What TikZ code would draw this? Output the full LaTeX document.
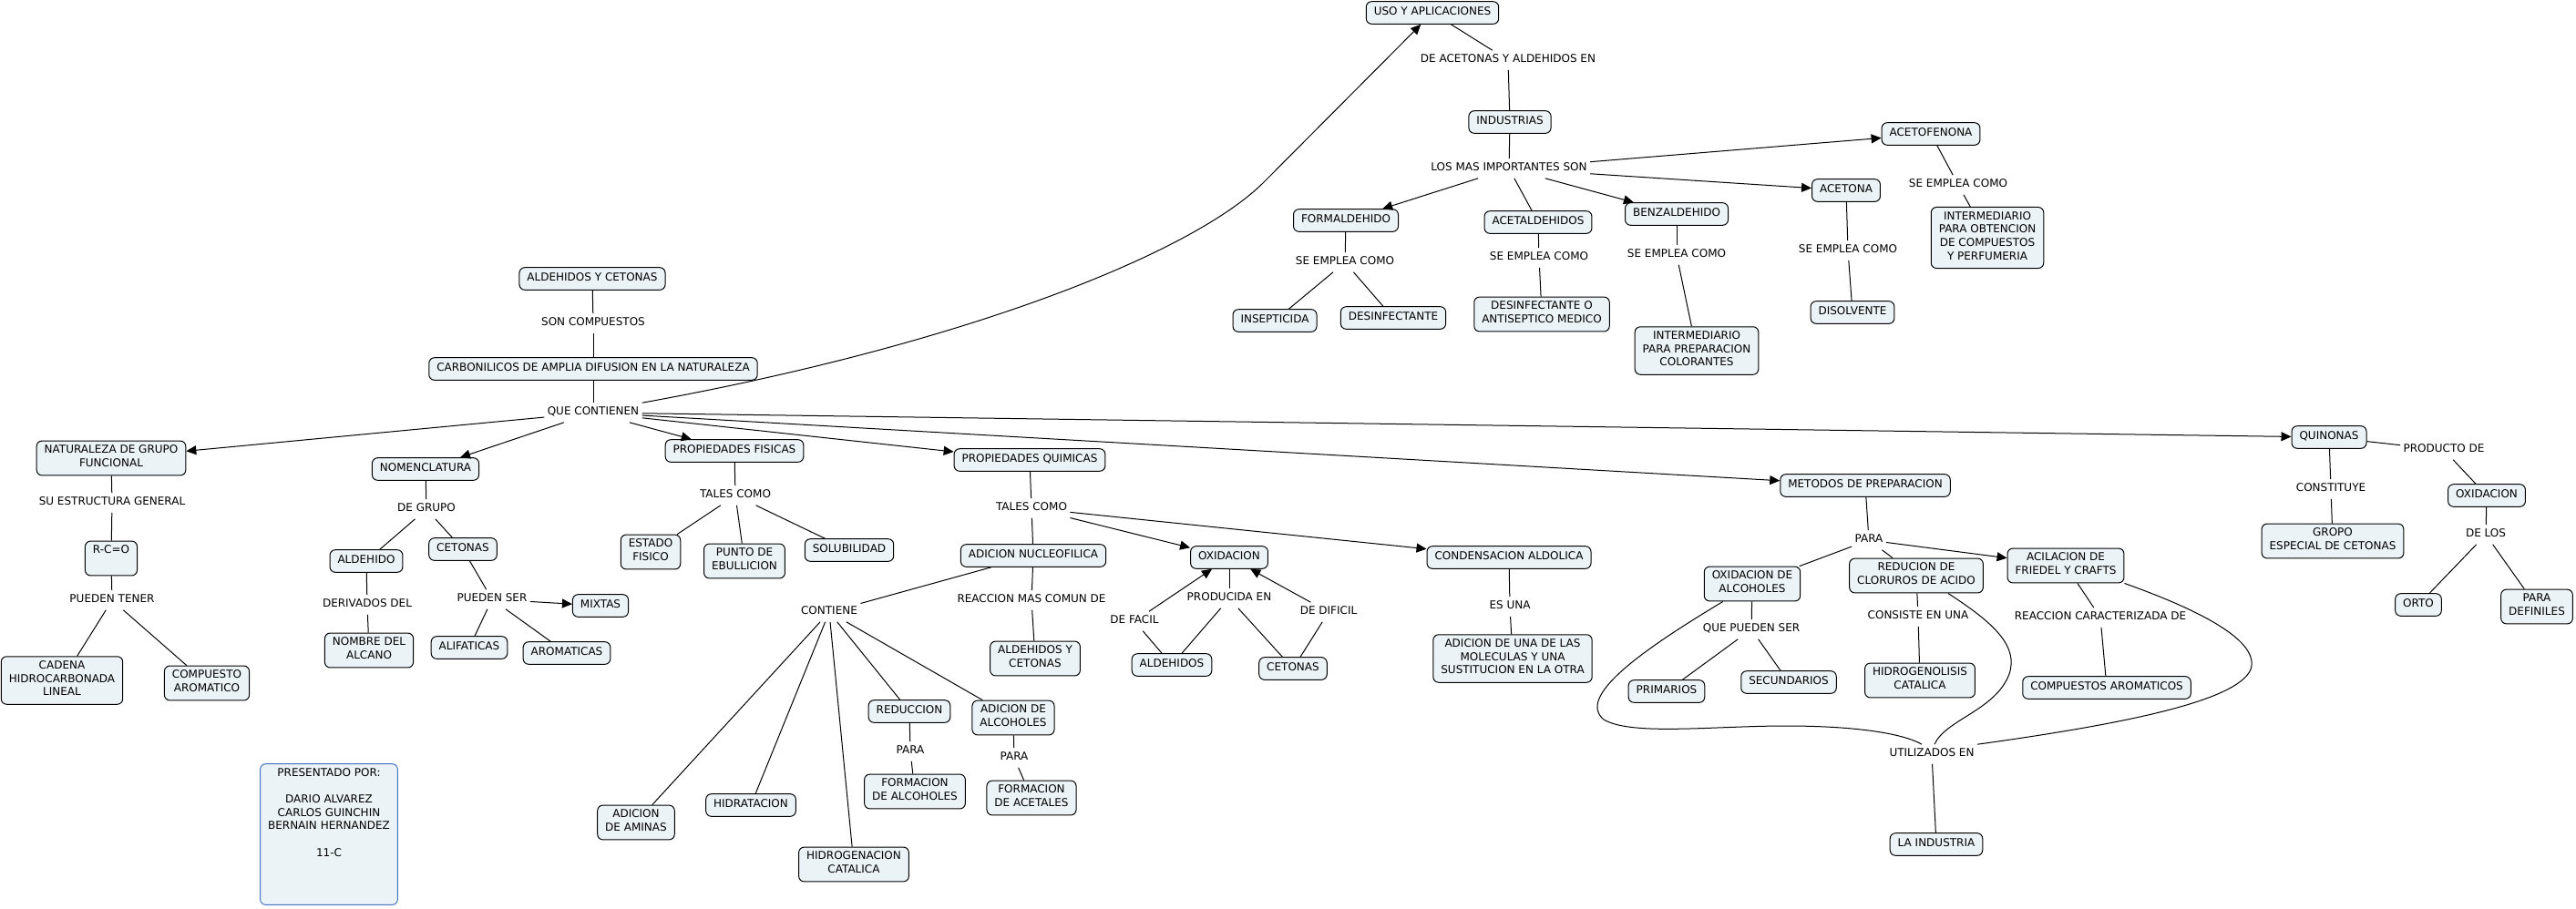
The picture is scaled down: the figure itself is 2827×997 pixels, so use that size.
\documentclass[tikz,border=0pt]{standalone}
\usepackage{fontspec}
\setmainfont{DejaVu Sans}
\usetikzlibrary{arrows.meta}

\definecolor{fondo}{RGB}{236,243,246}
\definecolor{borde}{RGB}{68,114,196}

\tikzset{every picture/.style={line width=1pt}}
\tikzset{
  concepto/.style={draw, rounded corners=6pt, fill=fondo, align=center,
    inner xsep=8.5pt, inner ysep=5pt, font=\fontsize{12}{14.6}\selectfont,
    execute at begin node=\strut, execute at end node=\strut},
  enlace/.style={fill=white, align=center, inner sep=3pt,
    font=\fontsize{12}{14.6}\selectfont, execute at begin node=\strut},
  flecha/.style={-{Triangle[length=11pt,width=10pt]}},
}

\begin{document}
\begin{tikzpicture}[x=1pt,y=1pt,yscale=-1,xscale=1]
\useasboundingbox (0,0) rectangle (2827,997);

%Shape: Rounded Rectangle (conceptos)
\node[concepto] (aldcet) at (650,306) {ALDEHIDOS Y CETONAS};
\node[concepto] (carb) at (651,405) {CARBONILICOS DE AMPLIA DIFUSION EN LA NATURALEZA};
\node[concepto] (nat) at (122,503) {NATURALEZA DE GRUPO\\FUNCIONAL};
\node[concepto] (rco) at (122,613) {R-C=O\\\mbox{}};
\node[concepto] (cadena) at (68,747) {CADENA\\HIDROCARBONADA\\LINEAL};
\node[concepto] (compar) at (227,750) {COMPUESTO\\AROMATICO};
\node[concepto] (nom) at (467,515) {NOMENCLATURA};
\node[concepto] (aldehido) at (402,616) {ALDEHIDO};
\node[concepto] (cetonas) at (508,603) {CETONAS};
\node[concepto] (nombre) at (405,714) {NOMBRE DEL\\ALCANO};
\node[concepto] (mixtas) at (659,665) {MIXTAS};
\node[concepto] (alifat) at (515,711) {ALIFATICAS};
\node[concepto] (aromat) at (622,717) {AROMATICAS};
\node[concepto] (pfis) at (806,495) {PROPIEDADES FISICAS};
\node[concepto] (estado) at (714,606) {ESTADO\\FISICO};
\node[concepto] (punto) at (817,616) {PUNTO DE\\EBULLICION};
\node[concepto] (solub) at (932,604) {SOLUBILIDAD};
\node[concepto] (pquim) at (1130,505) {PROPIEDADES QUIMICAS};
\node[concepto] (adnuc) at (1134,610) {ADICION NUCLEOFILICA};
\node[concepto] (oxid) at (1349,612) {OXIDACION};
\node[concepto] (conden) at (1656,612) {CONDENSACION ALDOLICA};
\node[concepto] (aldcet2) at (1136,723) {ALDEHIDOS Y\\CETONAS};
\node[concepto] (aldehidos) at (1286,730) {ALDEHIDOS};
\node[concepto] (cetonas2) at (1419,734) {CETONAS};
\node[concepto] (adicuna) at (1660,723) {ADICION DE UNA DE LAS\\MOLECULAS Y UNA\\SUSTITUCION EN LA OTRA};
\node[concepto] (adaminas) at (698,903) {ADICION\\DE AMINAS};
\node[concepto] (hidrat) at (824,884) {HIDRATACION};
\node[concepto] (hidrog) at (937,949) {HIDROGENACION\\CATALICA};
\node[concepto] (reduccion) at (998,781) {REDUCCION};
\node[concepto] (formalc) at (1004,869) {FORMACION\\DE ALCOHOLES};
\node[concepto] (adalcoh) at (1112,788) {ADICION DE\\ALCOHOLES};
\node[concepto] (formacet) at (1132,876) {FORMACION\\DE ACETALES};
\node[concepto] (uso) at (1572,14) {USO Y APLICACIONES};
\node[concepto] (industrias) at (1657,134) {INDUSTRIAS};
\node[concepto] (formal) at (1477,242) {FORMALDEHIDO};
\node[concepto] (acetal) at (1688,244) {ACETALDEHIDOS};
\node[concepto] (benz) at (1840,235) {BENZALDEHIDO};
\node[concepto] (acetona) at (2026,209) {ACETONA};
\node[concepto] (acetof) at (2119,147) {ACETOFENONA};
\node[concepto] (insept) at (1399,352) {INSEPTICIDA};
\node[concepto] (desinf) at (1529,349) {DESINFECTANTE};
\node[concepto] (desant) at (1692,345) {DESINFECTANTE O\\ANTISEPTICO MEDICO};
\node[concepto] (intercol) at (1862,385) {INTERMEDIARIO\\PARA PREPARACION\\COLORANTES};
\node[concepto] (disolv) at (2033,343) {DISOLVENTE};
\node[concepto] (interperf) at (2181,261) {INTERMEDIARIO\\PARA OBTENCION\\DE COMPUESTOS\\Y PERFUMERIA};
\node[concepto] (metodos) at (2047,533) {METODOS DE PREPARACION};
\node[concepto] (oxalc) at (1923,641) {OXIDACION DE\\ALCOHOLES};
\node[concepto] (reducl) at (2103,632) {REDUCION DE\\CLORUROS DE ACIDO};
\node[concepto] (acil) at (2267,621) {ACILACION DE\\FRIEDEL Y CRAFTS};
\node[concepto] (primarios) at (1829,759) {PRIMARIOS};
\node[concepto] (secund) at (1963,749) {SECUNDARIOS};
\node[concepto] (hidrogen) at (2107,747) {HIDROGENOLISIS\\CATALICA};
\node[concepto] (compar2) at (2312,755) {COMPUESTOS AROMATICOS};
\node[concepto] (laind) at (2125,927) {LA INDUSTRIA};
\node[concepto] (quinonas) at (2556,480) {QUINONAS};
\node[concepto] (gropo) at (2560,594) {GROPO\\ESPECIAL DE CETONAS};
\node[concepto] (oxid2) at (2729,544) {OXIDACION};
\node[concepto] (orto) at (2654,664) {ORTO};
\node[concepto] (paradef) at (2784,666) {PARA\\DEFINILES};
\node[concepto, draw=borde] (autores) at (361,916) {PRESENTADO POR:\\\mbox{}\\DARIO ALVAREZ\\CARLOS GUINCHIN\\BERNAIN HERNANDEZ\\\mbox{}\\11-C\\\mbox{}\\\mbox{}\\\mbox{}};

% Text Node (enlaces)
\node[enlace] (soncomp) at (651,355) {SON COMPUESTOS};
\node[enlace] (quecont) at (651,453) {QUE CONTIENEN};
\node[enlace] (suestr) at (123,552) {SU ESTRUCTURA GENERAL};
\node[enlace] (puedten) at (123,659) {PUEDEN TENER};
\node[enlace] (degrupo) at (468,559) {DE GRUPO};
\node[enlace] (derivados) at (403,664) {DERIVADOS DEL};
\node[enlace] (puedser) at (540,658) {PUEDEN SER};
\node[enlace] (talesf) at (807,544) {TALES COMO};
\node[enlace] (contiene) at (910,672) {CONTIENE};
\node[enlace] (talesq) at (1132,558) {TALES COMO};
\node[enlace] (reacmas) at (1132,659) {REACCION MAS COMUN DE};
\node[enlace] (producida) at (1349,657) {PRODUCIDA EN};
\node[enlace] (defacil) at (1245,682) {DE FACIL};
\node[enlace] (dedificil) at (1458,672) {DE DIFICIL};
\node[enlace] (esuna) at (1657,666) {ES UNA};
\node[enlace] (para1) at (999,825) {PARA};
\node[enlace] (para2) at (1113,832) {PARA};
\node[enlace] (deacet) at (1655,66) {DE ACETONAS Y ALDEHIDOS EN};
\node[enlace] (losmas) at (1656,185) {LOS MAS IMPORTANTES SON};
\node[enlace] (seemp1) at (1476,288) {SE EMPLEA COMO};
\node[enlace] (seemp2) at (1689,283) {SE EMPLEA COMO};
\node[enlace] (seemp3) at (1840,280) {SE EMPLEA COMO};
\node[enlace] (seemp4) at (2028,275) {SE EMPLEA COMO};
\node[enlace] (seemp5) at (2149,203) {SE EMPLEA COMO};
\node[enlace] (para3) at (2051,593) {PARA};
\node[enlace] (quepueden) at (1922,691) {QUE PUEDEN SER};
\node[enlace] (consiste) at (2105,677) {CONSISTE EN UNA};
\node[enlace] (reaccar) at (2305,678) {REACCION CARACTERIZADA DE};
\node[enlace] (utiliz) at (2120,828) {UTILIZADOS EN};
\node[enlace] (constituye) at (2558,537) {CONSTITUYE};
\node[enlace] (producto) at (2682,494) {PRODUCTO DE};
\node[enlace] (delos) at (2728,587) {DE LOS};

%Straight Lines (conectores)
\draw (aldcet) -- (soncomp);
\draw (soncomp) -- (carb);
\draw (carb) -- (quecont);
\draw[flecha] (quecont) -- (nat);
\draw[flecha] (quecont) -- (nom);
\draw[flecha] (quecont) -- (pfis);
\draw[flecha] (quecont) -- (pquim);
\draw[flecha] (quecont) -- (metodos);
\draw[flecha] (quecont) -- (quinonas);
\draw[flecha] (quecont.north east) .. controls (1050,380) and (1307,280) .. (1387,200) -- (uso);

\draw (nat) -- (suestr);
\draw (suestr) -- (rco);
\draw (rco) -- (puedten);
\draw (puedten) -- (cadena);
\draw (puedten) -- (compar);

\draw (nom) -- (degrupo);
\draw (degrupo) -- (aldehido);
\draw (degrupo) -- (cetonas);
\draw (aldehido) -- (derivados);
\draw (derivados) -- (nombre);
\draw (cetonas) -- (puedser);
\draw[flecha] (puedser) -- (mixtas);
\draw (puedser) -- (alifat);
\draw (puedser) -- (aromat);

\draw (pfis) -- (talesf);
\draw (talesf) -- (estado);
\draw (talesf) -- (punto);
\draw (talesf) -- (solub);

\draw (pquim) -- (talesq);
\draw (talesq) -- (adnuc);
\draw[flecha] (talesq) -- (oxid);
\draw[flecha] (talesq) -- (conden);
\draw (adnuc) -- (contiene);
\draw (contiene) -- (adaminas);
\draw (contiene) -- (hidrat);
\draw (contiene) -- (hidrog);
\draw (contiene) -- (reduccion);
\draw (contiene) -- (adalcoh);
\draw (adnuc) -- (reacmas);
\draw (reacmas) -- (aldcet2);
\draw (reduccion) -- (para1);
\draw (para1) -- (formalc);
\draw (adalcoh) -- (para2);
\draw (para2) -- (formacet);

\draw (oxid) -- (producida);
\draw (producida) -- (aldehidos);
\draw (producida) -- (cetonas2);
\draw (aldehidos) -- (defacil);
\draw[flecha] (defacil) -- (oxid);
\draw (cetonas2) -- (dedificil);
\draw[flecha] (dedificil) -- (oxid);
\draw (conden) -- (esuna);
\draw (esuna) -- (adicuna);

\draw (uso) -- (deacet);
\draw (deacet) -- (industrias);
\draw (industrias) -- (losmas);
\draw[flecha] (losmas) -- (formal);
\draw (losmas) -- (acetal);
\draw[flecha] (losmas) -- (benz);
\draw[flecha] (losmas) -- (acetona);
\draw[flecha] (losmas) -- (acetof);
\draw (formal) -- (seemp1);
\draw (seemp1) -- (insept);
\draw (seemp1) -- (desinf);
\draw (acetal) -- (seemp2);
\draw (seemp2) -- (desant);
\draw (benz) -- (seemp3);
\draw (seemp3) -- (intercol);
\draw (acetona) -- (seemp4);
\draw (seemp4) -- (disolv);
\draw (acetof) -- (seemp5);
\draw (seemp5) -- (interperf);

\draw (metodos) -- (para3);
\draw (para3) -- (oxalc);
\draw (para3) -- (reducl);
\draw[flecha] (para3) -- (acil);
\draw (oxalc) -- (quepueden);
\draw (quepueden) -- (primarios);
\draw (quepueden) -- (secund);
\draw (reducl) -- (consiste);
\draw (consiste) -- (hidrogen);
\draw (acil) -- (reaccar);
\draw (reaccar) -- (compar2);
%Curve Lines
\draw ([xshift=21pt]oxalc.south west) .. controls (1800,715) and (1730,765) .. (1760,790) .. controls (1790,808) and (1880,797) .. (1960,797) .. controls (2040,797) and (2090,806) .. ([xshift=-11pt]utiliz.north);
\draw ([xshift=-39pt]reducl.south east) .. controls (2190,685) and (2215,710) .. (2205,740) .. controls (2190,780) and (2135,790) .. ([xshift=3pt]utiliz.north);
\draw (acil.south east) .. controls (2420,672) and (2480,705) .. (2470,735) .. controls (2455,770) and (2330,795) .. (utiliz.north east);
\draw (utiliz) -- (laind);

\draw (quinonas) -- (constituye);
\draw (constituye) -- (gropo);
\draw (quinonas) -- (producto);
\draw (producto) -- (oxid2);
\draw (oxid2) -- (delos);
\draw (delos) -- (orto);
\draw (delos) -- (paradef);

\end{tikzpicture}
\end{document}
